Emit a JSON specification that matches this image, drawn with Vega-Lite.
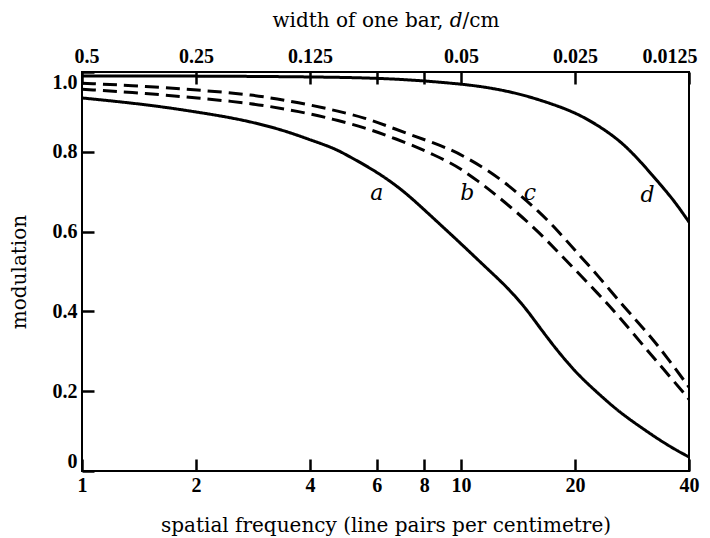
{
  "$schema": "https://vega.github.io/schema/vega-lite/v6.json",
  "width": 607,
  "height": 399,
  "autosize": "none",
  "padding": {"left": 82, "top": 72, "right": 21, "bottom": 67},
  "background": "white",
  "config": {
    "font": "DejaVu Serif",
    "view": {"stroke": "black", "strokeWidth": 2},
    "axis": {
      "grid": false,
      "domain": false,
      "ticks": true,
      "zindex": 1,
      "offset": -12,
      "tickColor": "#000000",
      "tickOpacity": 1,
      "tickWidth": 2.5,
      "tickSize": 12,
      "labelFont": "Liberation Serif",
      "labelFontWeight": "bold",
      "labelFontSize": 20,
      "labelColor": "black",
      "labelOverlap": false,
      "titleFont": "DejaVu Serif",
      "titleFontSize": 20,
      "titleFontWeight": "normal",
      "titleColor": "black"
    }
  },
  "datasets": {
    "curves": [
      {"curve": "a", "f": 1, "m": 0.935}, {"curve": "a", "f": 1.5, "m": 0.918}, {"curve": "a", "f": 2, "m": 0.9},
      {"curve": "a", "f": 2.5, "m": 0.885}, {"curve": "a", "f": 3, "m": 0.868}, {"curve": "a", "f": 3.5, "m": 0.85},
      {"curve": "a", "f": 4, "m": 0.83}, {"curve": "a", "f": 4.6, "m": 0.81}, {"curve": "a", "f": 5, "m": 0.792},
      {"curve": "a", "f": 6, "m": 0.75}, {"curve": "a", "f": 7, "m": 0.705}, {"curve": "a", "f": 8, "m": 0.655},
      {"curve": "a", "f": 9, "m": 0.61}, {"curve": "a", "f": 10, "m": 0.57}, {"curve": "a", "f": 11.5, "m": 0.515},
      {"curve": "a", "f": 13, "m": 0.468}, {"curve": "a", "f": 14, "m": 0.435}, {"curve": "a", "f": 15, "m": 0.402},
      {"curve": "a", "f": 17, "m": 0.33}, {"curve": "a", "f": 20, "m": 0.248}, {"curve": "a", "f": 23, "m": 0.195},
      {"curve": "a", "f": 26, "m": 0.15}, {"curve": "a", "f": 30, "m": 0.108}, {"curve": "a", "f": 35, "m": 0.065},
      {"curve": "a", "f": 40, "m": 0.035},
      {"curve": "b", "f": 1, "m": 0.957}, {"curve": "b", "f": 1.5, "m": 0.946}, {"curve": "b", "f": 2, "m": 0.935},
      {"curve": "b", "f": 2.8, "m": 0.922}, {"curve": "b", "f": 3.8, "m": 0.9}, {"curve": "b", "f": 4.6, "m": 0.882},
      {"curve": "b", "f": 5.6, "m": 0.86}, {"curve": "b", "f": 6.5, "m": 0.838}, {"curve": "b", "f": 7.65, "m": 0.812},
      {"curve": "b", "f": 8.5, "m": 0.792}, {"curve": "b", "f": 9.4, "m": 0.772}, {"curve": "b", "f": 10, "m": 0.757},
      {"curve": "b", "f": 11.2, "m": 0.724}, {"curve": "b", "f": 12, "m": 0.702}, {"curve": "b", "f": 14, "m": 0.65},
      {"curve": "b", "f": 16, "m": 0.6}, {"curve": "b", "f": 18, "m": 0.55}, {"curve": "b", "f": 20, "m": 0.505},
      {"curve": "b", "f": 23, "m": 0.445}, {"curve": "b", "f": 26, "m": 0.39}, {"curve": "b", "f": 31, "m": 0.303},
      {"curve": "b", "f": 35, "m": 0.245}, {"curve": "b", "f": 40, "m": 0.18},
      {"curve": "c", "f": 1, "m": 0.972}, {"curve": "c", "f": 1.5, "m": 0.964}, {"curve": "c", "f": 2, "m": 0.955},
      {"curve": "c", "f": 2.8, "m": 0.944}, {"curve": "c", "f": 3.8, "m": 0.922}, {"curve": "c", "f": 4.6, "m": 0.905},
      {"curve": "c", "f": 5.6, "m": 0.885}, {"curve": "c", "f": 6.5, "m": 0.862}, {"curve": "c", "f": 7.65, "m": 0.837},
      {"curve": "c", "f": 8.5, "m": 0.822}, {"curve": "c", "f": 9.4, "m": 0.805}, {"curve": "c", "f": 10, "m": 0.793},
      {"curve": "c", "f": 12, "m": 0.75}, {"curve": "c", "f": 14, "m": 0.7}, {"curve": "c", "f": 16, "m": 0.652},
      {"curve": "c", "f": 18, "m": 0.603}, {"curve": "c", "f": 20, "m": 0.553}, {"curve": "c", "f": 23, "m": 0.49},
      {"curve": "c", "f": 27, "m": 0.41}, {"curve": "c", "f": 31, "m": 0.348}, {"curve": "c", "f": 35, "m": 0.285},
      {"curve": "c", "f": 40, "m": 0.21},
      {"curve": "d", "f": 1, "m": 0.99}, {"curve": "d", "f": 2, "m": 0.99}, {"curve": "d", "f": 4, "m": 0.988},
      {"curve": "d", "f": 6, "m": 0.985}, {"curve": "d", "f": 8, "m": 0.978}, {"curve": "d", "f": 9.4, "m": 0.972},
      {"curve": "d", "f": 11.2, "m": 0.965}, {"curve": "d", "f": 14, "m": 0.948}, {"curve": "d", "f": 16.8, "m": 0.925},
      {"curve": "d", "f": 20.6, "m": 0.895}, {"curve": "d", "f": 25.2, "m": 0.842}, {"curve": "d", "f": 28, "m": 0.803},
      {"curve": "d", "f": 31, "m": 0.757}, {"curve": "d", "f": 34.9, "m": 0.7}, {"curve": "d", "f": 37, "m": 0.67},
      {"curve": "d", "f": 40, "m": 0.624}
    ],
    "labels": [
      {"label": "a", "f": 6.0, "m": 0.697},
      {"label": "b", "f": 10.4, "m": 0.697},
      {"label": "c", "f": 15.2, "m": 0.697},
      {"label": "d", "f": 31.1, "m": 0.692}
    ]
  },
  "resolve": {"axis": {"x": "independent"}},
  "layer": [
    {
      "data": {"name": "curves"},
      "mark": {"type": "line", "interpolate": "basis", "strokeWidth": 3, "color": "black", "clip": true},
      "encoding": {
        "x": {
          "field": "f", "type": "quantitative",
          "scale": {"type": "log", "domain": [1, 40], "nice": false},
          "axis": {
            "orient": "bottom",
            "title": "spatial frequency (line pairs per centimetre)",
            "values": [1, 2, 4, 6, 8, 10, 20, 40],
            "labelFlush": false,
            "labelPadding": 4,
            "titlePadding": 20
          }
        },
        "y": {
          "field": "m", "type": "quantitative",
          "scale": {"domain": [0, 1], "nice": false},
          "axis": {
            "title": "modulation",
            "values": [0, 0.1, 0.2, 0.3, 0.4, 0.5, 0.6, 0.7, 0.8, 0.9, 1.0],
            "labelExpr": "datum.value == 0 ? '0' : format(datum.value, '.1f')",
            "labelOpacity": {"condition": {"test": "round(datum.value * 10) % 2 == 1", "value": 0}, "value": 1},
            "labelFlush": true,
            "labelFlushOffset": 0,
            "labelPadding": 5,
            "titlePadding": 23
          }
        },
        "detail": {"field": "curve"},
        "strokeDash": {
          "field": "curve", "type": "nominal",
          "scale": {"domain": ["a", "b", "c", "d"], "range": [[1, 0], [14, 7], [14, 7], [1, 0]]},
          "legend": null
        }
      }
    },
    {
      "data": {"name": "labels"},
      "mark": {"type": "text", "font": "DejaVu Serif", "fontStyle": "italic", "fontSize": 22, "color": "black", "baseline": "middle", "align": "center"},
      "encoding": {
        "x": {
          "field": "f", "type": "quantitative",
          "axis": {
            "orient": "top",
            "title": "width of one bar, 𝑑/cm",
            "values": [1, 2, 4, 6, 8, 10, 20, 40],
            "labelExpr": "datum.value == 1 ? '0.5' : datum.value == 2 ? '0.25' : datum.value == 4 ? '0.125' : datum.value == 10 ? '0.05' : datum.value == 20 ? '0.025' : datum.value == 40 ? '0.0125' : ''",
            "labelFlush": true,
            "labelFlushOffset": 8,
            "labelPadding": 6,
            "titlePadding": 16
          }
        },
        "y": {"field": "m", "type": "quantitative"},
        "text": {"field": "label"}
      }
    }
  ]
}
